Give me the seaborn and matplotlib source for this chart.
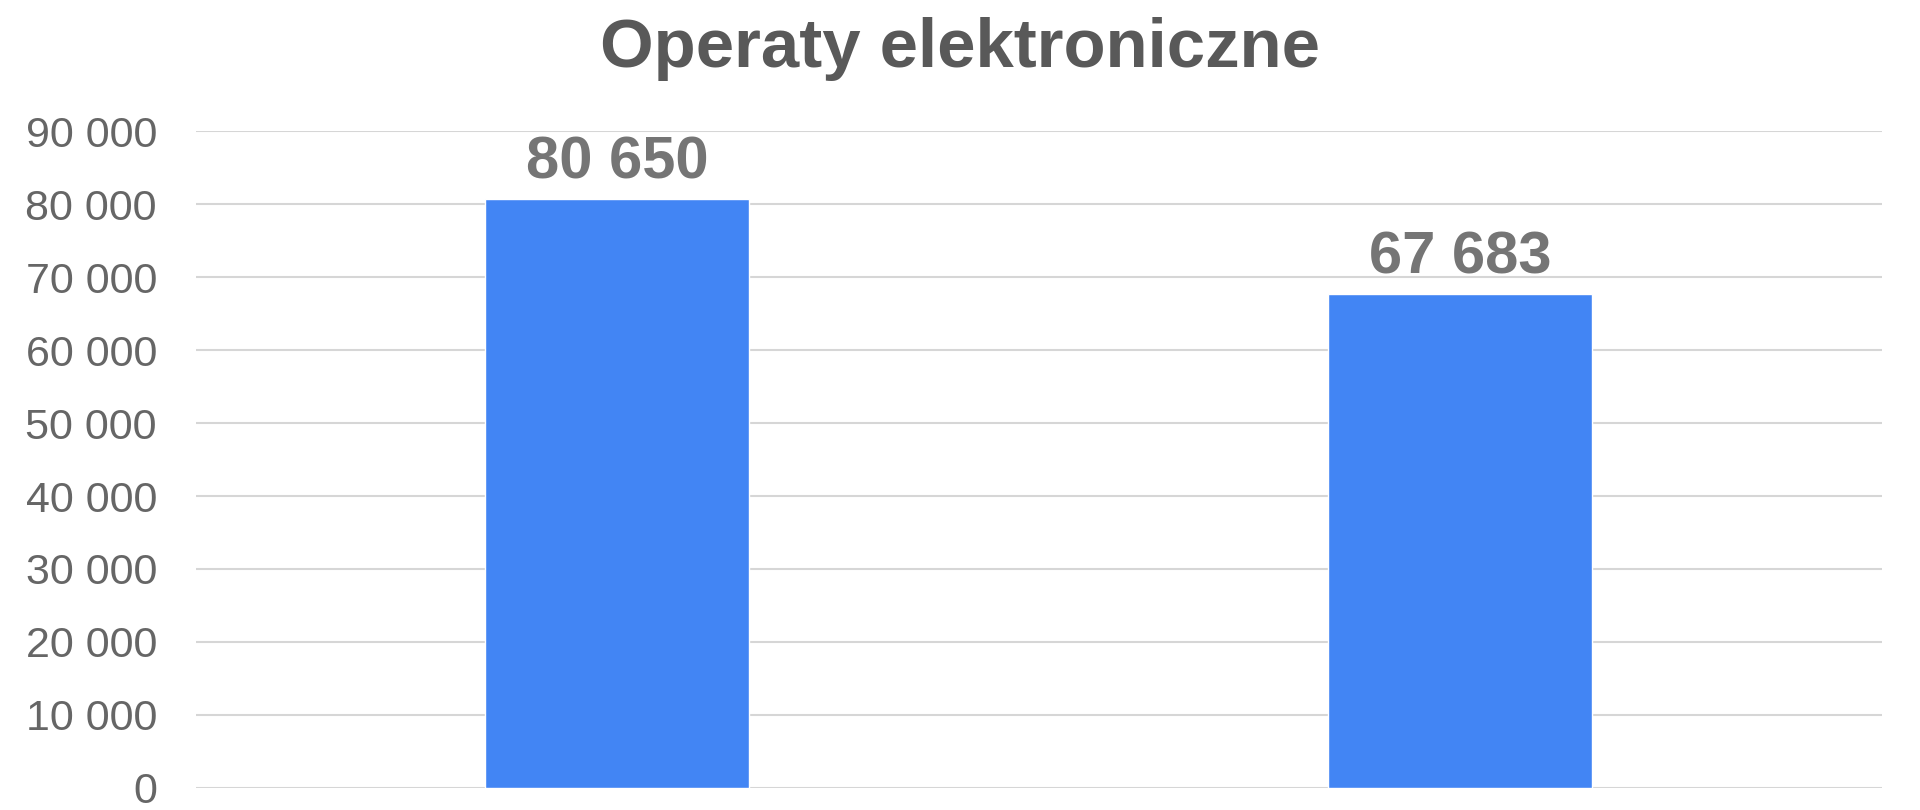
import matplotlib
matplotlib.use("Agg")
import matplotlib.pyplot as plt
import seaborn as sns
import pandas as pd
from matplotlib.ticker import FuncFormatter, MultipleLocator

categories = ["Okres 1", "Okres 2"]
values = [80650, 67683]
title = "Operaty elektroniczne"

sns.set_theme(style="white")
plt.rcParams['font.family'] = ['Liberation Sans', 'DejaVu Sans']

df = pd.DataFrame({"cat": categories, "val": values})

fig = plt.figure(figsize=(19.2, 8.1), dpi=100)
ax = fig.add_axes([0.102, 0.0272, 0.878, 0.811])

sns.barplot(data=df, x="cat", y="val", color="#4285F4", width=0.313,
            saturation=1, ax=ax, zorder=3)

ax.set_ylim(0, 90000)
ax.yaxis.set_major_locator(MultipleLocator(10000))
ax.yaxis.set_major_formatter(FuncFormatter(lambda v, p: f"{int(v):,}".replace(",", " ")))
ax.grid(axis="y", color="#d6d6d6", linewidth=1.5, zorder=0)
ax.set_axisbelow(True)
for s in ax.spines.values():
    s.set_visible(False)
ax.set_xlabel("")
ax.set_ylabel("")
ax.set_xticks(range(len(categories)))
ax.set_xticklabels([""] * len(categories))
ax.tick_params(axis="x", length=0)
ax.tick_params(axis="y", length=0, pad=28, labelsize=31, labelcolor="#666666")

for i, v in enumerate(values):
    ax.annotate(f"{v:,}".replace(",", " "), xy=(i, v), xytext=(0, 6),
                textcoords="offset points", ha="center", va="bottom",
                fontsize=43, fontweight="bold", color="#757575")

fig.text(0.5, 0.939, title, ha="center", va="center", fontsize=49.6,
         fontweight="bold", color="#595959")

fig.savefig("out.png", dpi=100, facecolor="white")
